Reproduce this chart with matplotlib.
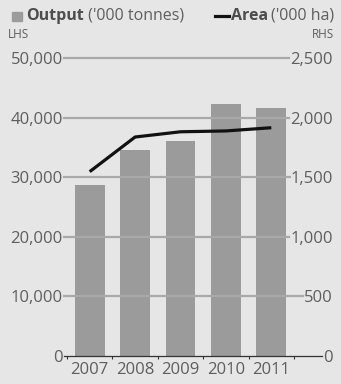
import numpy as np
import matplotlib.pyplot as plt
from matplotlib.lines import Line2D
from matplotlib.patches import Rectangle

years = ['2007', '2008', '2009', '2010', '2011']
output = [28700, 34600, 36100, 42400, 41700]  # '000 tonnes, LHS
area = [1548, 1839, 1883, 1890, 1917]  # '000 ha, RHS
lhs_ticks = [0, 10000, 20000, 30000, 40000, 50000]
rhs_ticks = [0, 500, 1000, 1500, 2000, 2500]

BG = '#e6e6e6'
TEXT = '#5e5e5e'
FONT = 'Open Sans'


def main():
    plt.rcParams['font.family'] = [FONT, 'DejaVu Sans']
    fig = plt.figure(figsize=(3.41, 3.84), dpi=100, facecolor=BG)
    ax = fig.add_axes([67 / 341, 28 / 384, 227 / 341, 297.7 / 384])
    ax.set_facecolor(BG)
    ax2 = ax.twinx()

    x = np.arange(len(years))
    ax.bar(x, output, 0.66, color='#9b9b9b', zorder=2)
    ax2.plot(x, area, color='#111111', lw=2.3, solid_capstyle='butt', zorder=3)

    ax.set_xlim(-0.5, len(years) - 0.5)
    ax.set_ylim(0, 50000)
    ax2.set_ylim(0, 2500)
    ax.set_xticks(x)
    ax.set_xticklabels(years)
    ax.set_xticks(np.arange(len(years) + 1) - 0.5, minor=True)
    ax.tick_params(axis='x', which='major', length=0, pad=4, labelsize=12, labelcolor=TEXT)
    ax.tick_params(axis='x', which='minor', length=2.5, width=0.8, color='#333333')

    ax.set_yticks(lhs_ticks)
    ax.set_yticklabels(['{:,}'.format(v) for v in lhs_ticks])
    ax.tick_params(axis='y', length=0, pad=3, labelsize=12, labelcolor=TEXT)
    ax2.set_yticks(rhs_ticks)
    ax2.set_yticklabels(['{:,}'.format(v) for v in rhs_ticks])
    ax2.tick_params(axis='y', length=0, pad=28, labelsize=12, labelcolor=TEXT)
    for lbl in ax2.get_yticklabels():
        lbl.set_horizontalalignment('right')

    for a in (ax, ax2):
        for s in a.spines.values():
            s.set_visible(False)

    # gridlines run from the end of the left label to the start of the right one
    fig.canvas.draw()
    r = fig.canvas.get_renderer()
    for left, right, v in zip(ax.get_yticklabels(), ax2.get_yticklabels(), lhs_ticks):
        x0 = left.get_window_extent(r).x1 + 1
        x1 = right.get_window_extent(r).x0 - 1
        y = ax.transData.transform((0, v))[1]
        if v == 0:
            ln = Line2D([x0, x1], [y, y], color='#333333', lw=0.9, transform=None, zorder=4)
        else:
            ln = Line2D([x0, x1], [y, y], color='#a9a9a9', lw=1.6, transform=None, zorder=1)
        fig.add_artist(ln)

    # legend row
    h = 384
    fig.add_artist(Rectangle((12, h - 21), 10, 9, color='#9b9b9b', transform=None))
    t1 = fig.text(26 / 341, 1 - 16 / h, 'Output', fontsize=11.5, fontweight='bold',
                  color='#4d4d4d', va='center')
    fig.canvas.draw()
    bb = t1.get_window_extent(r)
    fig.text(bb.x1 / 341, 1 - 16 / h, " ('000 tonnes)", fontsize=11.5, color=TEXT, va='center')

    t2 = fig.text(334 / 341, 1 - 16 / h, "('000 ha)", fontsize=11.5, color=TEXT,
                  va='center', ha='right')
    fig.canvas.draw()
    bb = t2.get_window_extent(r)
    t3 = fig.text((bb.x0 - 3) / 341, 1 - 16 / h, 'Area', fontsize=11.5, fontweight='bold',
                  color='#4d4d4d', va='center', ha='right')
    fig.canvas.draw()
    bb = t3.get_window_extent(r)
    fig.add_artist(Line2D([bb.x0 - 16, bb.x0 - 2], [h - 16, h - 16], color='#111111',
                          lw=2.3, transform=None))

    fig.text(8 / 341, 1 - 35 / h, 'LHS', fontsize=8.5, color=TEXT, va='center')
    fig.text(334 / 341, 1 - 35 / h, 'RHS', fontsize=8.5, color=TEXT, va='center', ha='right')

    fig.savefig('out.png', dpi=100, facecolor=BG)


if __name__ == "__main__":
    main()
